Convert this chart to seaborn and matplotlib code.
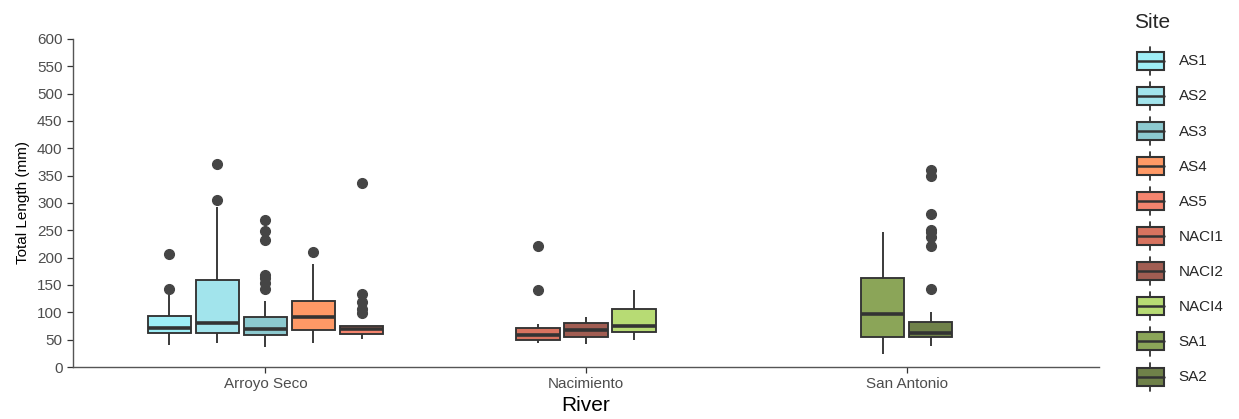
import matplotlib
matplotlib.use('Agg')
import matplotlib.pyplot as plt
import seaborn as sns
import pandas as pd
from matplotlib.patches import Rectangle, Patch
from matplotlib.lines import Line2D
from matplotlib.legend_handler import HandlerBase

# values (total length, mm)
rivers = ['Arroyo Seco', 'Nacimiento', 'San Antonio']
river_sites = [['AS1', 'AS2', 'AS3', 'AS4', 'AS5'],
               ['NACI1', 'NACI2', 'NACI4'],
               ['SA1', 'SA2']]

as1 = [40, 50, 58, 62, 65, 68, 71, 80, 88, 93, 135, 143, 207]
as2 = [44, 55, 60, 63, 70, 76, 80, 110, 140, 159, 293, 306, 372]
as3 = [37, 42, 46, 49, 51, 53, 55, 57, 58, 60, 61, 62, 63, 65, 66, 67, 69,
       72, 75, 78, 81, 84, 86, 89, 91, 121, 142, 153, 162, 168, 233, 249, 268]
as4 = [43, 55, 68, 80, 92, 105, 121, 188, 210]
as5 = [51, 54, 56, 58, 59, 60, 62, 64, 66, 68, 70, 71, 72, 73, 74, 74.5,
       98, 107, 118, 133, 337]
naci1 = [44, 46, 48, 49, 52, 55, 58.5, 63, 68, 72, 79, 141, 221]
naci2 = [42, 48, 54, 62, 68, 74, 80, 86, 92]
naci4 = [49, 56, 63.5, 70, 75.5, 90, 106, 125, 141]
sa1 = [23, 40, 55.5, 75, 97, 130, 163, 210, 247]
sa2 = [38, 41, 44, 46, 48, 50, 51, 52, 53, 54, 55, 56, 57, 58, 59, 60, 60,
       61, 62, 64, 66, 68, 70, 72, 75, 77, 80, 82, 101, 142, 222, 237, 247,
       250, 279, 349, 360]

site_lengths = {'AS1': as1, 'AS2': as2, 'AS3': as3, 'AS4': as4, 'AS5': as5,
                'NACI1': naci1, 'NACI2': naci2, 'NACI4': naci4,
                'SA1': sa1, 'SA2': sa2}

site_colors = ['#9FEEF6', '#A2E4EC', '#8CC9CF', '#FF9966', '#F4846E',
               '#D8735F', '#A15D52', '#B7DB74', '#8BA558', '#6F8149']

# dodge sites inside each river like ggplot's preserve = "single"
slot = 0.75 / max(len(s) for s in river_sites)
rows = []
for i, (river, sites) in enumerate(zip(rivers, river_sites)):
    for j, site in enumerate(sites):
        pos = i + (j - (len(sites) - 1) / 2) * slot
        for v in site_lengths[site]:
            rows.append({'River': river, 'Site': site, 'pos': pos, 'Length': v})
df = pd.DataFrame(rows)

all_sites = [s for sites in river_sites for s in sites]
palette = dict(zip(all_sites, site_colors))

sns.set_style('ticks')
plt.rcParams['font.family'] = ['Liberation Sans', 'DejaVu Sans']

edge = '#333333'
fig = plt.figure(figsize=(12.39, 4.19), dpi=100)
ax = fig.add_axes([73 / 1239, 1 - 367 / 419, (1099 - 73) / 1239, (367 - 39) / 419])

sns.boxplot(data=df, x='pos', y='Length', hue='Site', hue_order=all_sites,
            palette=palette, native_scale=True, dodge=False, width=0.9,
            saturation=1, linecolor=edge, linewidth=1.35, showcaps=False,
            medianprops=dict(linewidth=2.6, color=edge),
            flierprops=dict(marker='o', markersize=7, markerfacecolor='#454545',
                            markeredgecolor='#454545'),
            legend=False, ax=ax)

ax.set_xlim(-0.6, 2.6)
ax.set_ylim(0, 600)
ax.set_xticks(range(len(rivers)), rivers)
ax.set_yticks(range(0, 601, 50))
ax.tick_params(axis='both', colors='#333333', labelcolor='#4D4D4D',
               labelsize=11, length=4, width=0.9)
for side in ['top', 'right']:
    ax.spines[side].set_visible(False)
for side in ['left', 'bottom']:
    ax.spines[side].set_color('#555555')
    ax.spines[side].set_linewidth(1.0)
ax.set_xlabel('River', fontsize=15, color='black', labelpad=3)
ax.set_ylabel('Total Length (mm)', fontsize=11, color='black', labelpad=5)


class BoxHandler(HandlerBase):
    def create_artists(self, legend, orig_handle, xdescent, ydescent,
                       width, height, fontsize, trans):
        x0, y0 = -xdescent, -ydescent
        fc = orig_handle.get_facecolor()
        cx = x0 + width / 2
        box = Rectangle((x0, y0 + 0.18 * height), width, 0.64 * height,
                        facecolor=fc, edgecolor=edge, lw=1.5, transform=trans)
        med = Line2D([x0, x0 + width], [y0 + 0.5 * height] * 2,
                     color=edge, lw=1.8, transform=trans)
        w1 = Line2D([cx, cx], [y0, y0 + 0.18 * height],
                    color=edge, lw=1.3, transform=trans)
        w2 = Line2D([cx, cx], [y0 + 0.82 * height, y0 + height],
                    color=edge, lw=1.3, transform=trans)
        return [box, w1, w2, med]


handles = [Patch(facecolor=palette[s], label=s) for s in all_sites]
fig.text(1134 / 1239, 1 - 22 / 419, 'Site', fontsize=15, va='center', ha='left')
fig.legend(handles=handles, labels=all_sites,
           handler_map={Patch: BoxHandler()},
           loc='upper left', bbox_to_anchor=(1129 / 1239, 1 - 39 / 419),
           frameon=False, fontsize=11,
           handlelength=1.76, handleheight=2.45, labelspacing=0.46,
           handletextpad=1.0, borderpad=0)

fig.savefig('out.png', dpi=100)
